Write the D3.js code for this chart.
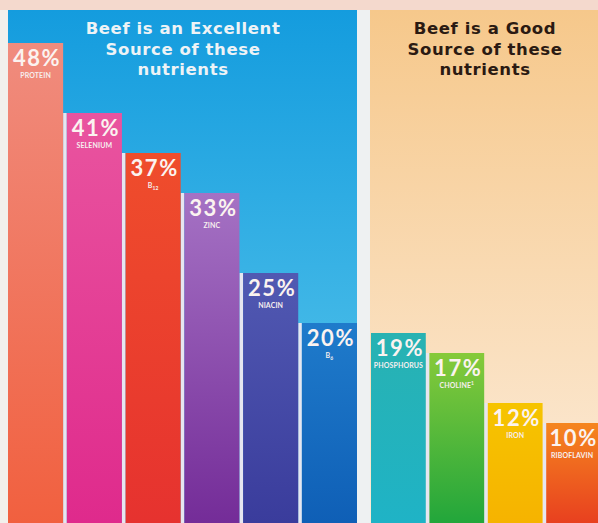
<!DOCTYPE html>
<html>
<head>
<meta charset="utf-8">
<script src="https://cdn.jsdelivr.net/npm/d3@7"></script>
<style>
  html, body { margin: 0; padding: 0; background: #f1eeea; }
  svg { display: block; }
  text { font-family: Lato, "Open Sans", sans-serif; font-weight: 700; }
  text.title { font-family: "DejaVu Sans", sans-serif; font-weight: 700; }
</style>
</head>
<body>
<script>
// ---- data ----
const excellentNutrients = ["PROTEIN", "SELENIUM", "B", "ZINC", "NIACIN", "B"];
const excellentSubs      = ["", "", "12", "", "", "6"];
const excellentValues    = [48, 41, 37, 33, 25, 20];

const goodNutrients = ["PHOSPHORUS", "CHOLINE", "IRON", "RIBOFLAVIN"];
const goodSups      = ["", "1", "", ""];
const goodValues    = [19, 17, 12, 10];

const excellentTitle = ["Beef is an Excellent", "Source of these", "nutrients"];
const goodTitle      = ["Beef is a Good", "Source of these", "nutrients"];

const excellentColors = [
  ["#f08c7e", "#f1603f"],
  ["#e9549f", "#df2a8c"],
  ["#ef4d2c", "#e6322f"],
  ["#a572c4", "#742c98"],
  ["#5159b2", "#3a3c9c"],
  ["#1f7bcb", "#0f5fb6"]
];
const goodColors = [
  ["#28b2b2", "#1fb3c6"],
  ["#86ca3a", "#22a63b"],
  ["#f6c400", "#f6b300"],
  ["#f5861f", "#e8401f"]
];

// ---- layout ----
const W = 598, H = 523;
const svg = d3.select("body").append("svg").attr("width", W).attr("height", H);
const defs = svg.append("defs");

function vGrad(id, c1, c2) {
  const g = defs.append("linearGradient").attr("id", id)
    .attr("x1", 0).attr("y1", 0).attr("x2", 0).attr("y2", 1);
  g.append("stop").attr("offset", "0%").attr("stop-color", c1);
  g.append("stop").attr("offset", "100%").attr("stop-color", c2);
}
vGrad("bgBlue", "#149cde", "#5cc8ec");
vGrad("bgPeach", "#f6c88b", "#fcebd8");

// page background pieces
svg.append("rect").attr("x", 0).attr("y", 0).attr("width", W).attr("height", 10).attr("fill", "#f4d9cd");
svg.append("rect").attr("x", 0).attr("y", 10).attr("width", 8).attr("height", H - 10).attr("fill", "#f2f0ec");
svg.append("rect").attr("x", 357).attr("y", 10).attr("width", 13).attr("height", H - 10).attr("fill", "#eef1f2");
svg.append("rect").attr("x", 8).attr("y", 10).attr("width", 349).attr("height", H - 10).attr("fill", "url(#bgBlue)");
svg.append("rect").attr("x", 370).attr("y", 10).attr("width", W - 370).attr("height", H - 10).attr("fill", "url(#bgPeach)");

const y = d3.scaleLinear().domain([0, 50]).range([H, 23]);

const xL = d3.scaleBand().domain(d3.range(excellentValues.length)).range([8, 357]).paddingInner(0.062).paddingOuter(0);
const xR = d3.scaleBand().domain(d3.range(goodValues.length)).range([371, 601]).paddingInner(0.062).paddingOuter(0);

function drawGroup(name, values, labels, subs, sups, colors, x) {
  const g = svg.append("g").attr("class", name);
  colors.forEach((c, i) => vGrad(name + "g" + i, c[0], c[1]));
  // visible centre of each bar (the last bar runs off the page edge)
  const cx = i => (x(i) + Math.min(x(i) + x.bandwidth(), W)) / 2;
  // light gaps between adjacent bars
  for (let i = 1; i < values.length; i++) {
    const x0 = x(i - 1) + x.bandwidth();
    const x1 = x(i);
    const top = y(Math.min(values[i - 1], values[i]));
    g.append("rect").attr("x", x0).attr("y", top).attr("width", x1 - x0).attr("height", H - top).attr("fill", "#e6e6f0");
  }
  g.selectAll("rect.bar").data(values).join("rect")
    .attr("class", "bar")
    .attr("x", (d, i) => x(i))
    .attr("y", d => y(d))
    .attr("width", x.bandwidth())
    .attr("height", d => H - y(d))
    .attr("fill", (d, i) => `url(#${name}g${i})`);
  g.selectAll("text.val").data(values).join("text")
    .attr("class", "val")
    .attr("x", (d, i) => cx(i) + 1.5)
    .attr("y", d => y(d) + 23)
    .attr("text-anchor", "middle")
    .attr("fill", "#fbf3f0")
    .attr("font-size", 22)
    .attr("letter-spacing", 1.6)
    .text(d => d + "%");
  const lab = g.selectAll("text.lab").data(values).join("text")
    .attr("class", "lab")
    .attr("x", (d, i) => cx(i))
    .attr("y", d => y(d) + 35)
    .attr("text-anchor", "middle")
    .attr("fill", "#f6eeee")
    .attr("font-size", 7)
    .attr("letter-spacing", 0.1);
  lab.each(function (d, i) {
    const t = d3.select(this);
    t.append("tspan").text(labels[i]);
    if (subs && subs[i]) t.append("tspan").attr("font-size", 5).attr("dy", 2).text(subs[i]);
    if (sups && sups[i]) t.append("tspan").attr("font-size", 5).attr("dy", -3).text(sups[i]);
  });
}

drawGroup("ex", excellentValues, excellentNutrients, excellentSubs, null, excellentColors, xL);
drawGroup("gd", goodValues, goodNutrients, null, goodSups, goodColors, xR);

// titles
function drawTitle(lines, cx, color) {
  svg.append("g").selectAll("text").data(lines).join("text")
    .attr("class", "title")
    .attr("x", cx)
    .attr("y", (d, i) => 34 + i * 20.5)
    .attr("text-anchor", "middle")
    .attr("fill", color)
    .attr("font-size", 16.5)
    .attr("letter-spacing", 0.6)
    .text(d => d);
}
drawTitle(excellentTitle, 183, "#eef3f6");
drawTitle(goodTitle, 485, "#2b1a12");
</script>
</body>
</html>
